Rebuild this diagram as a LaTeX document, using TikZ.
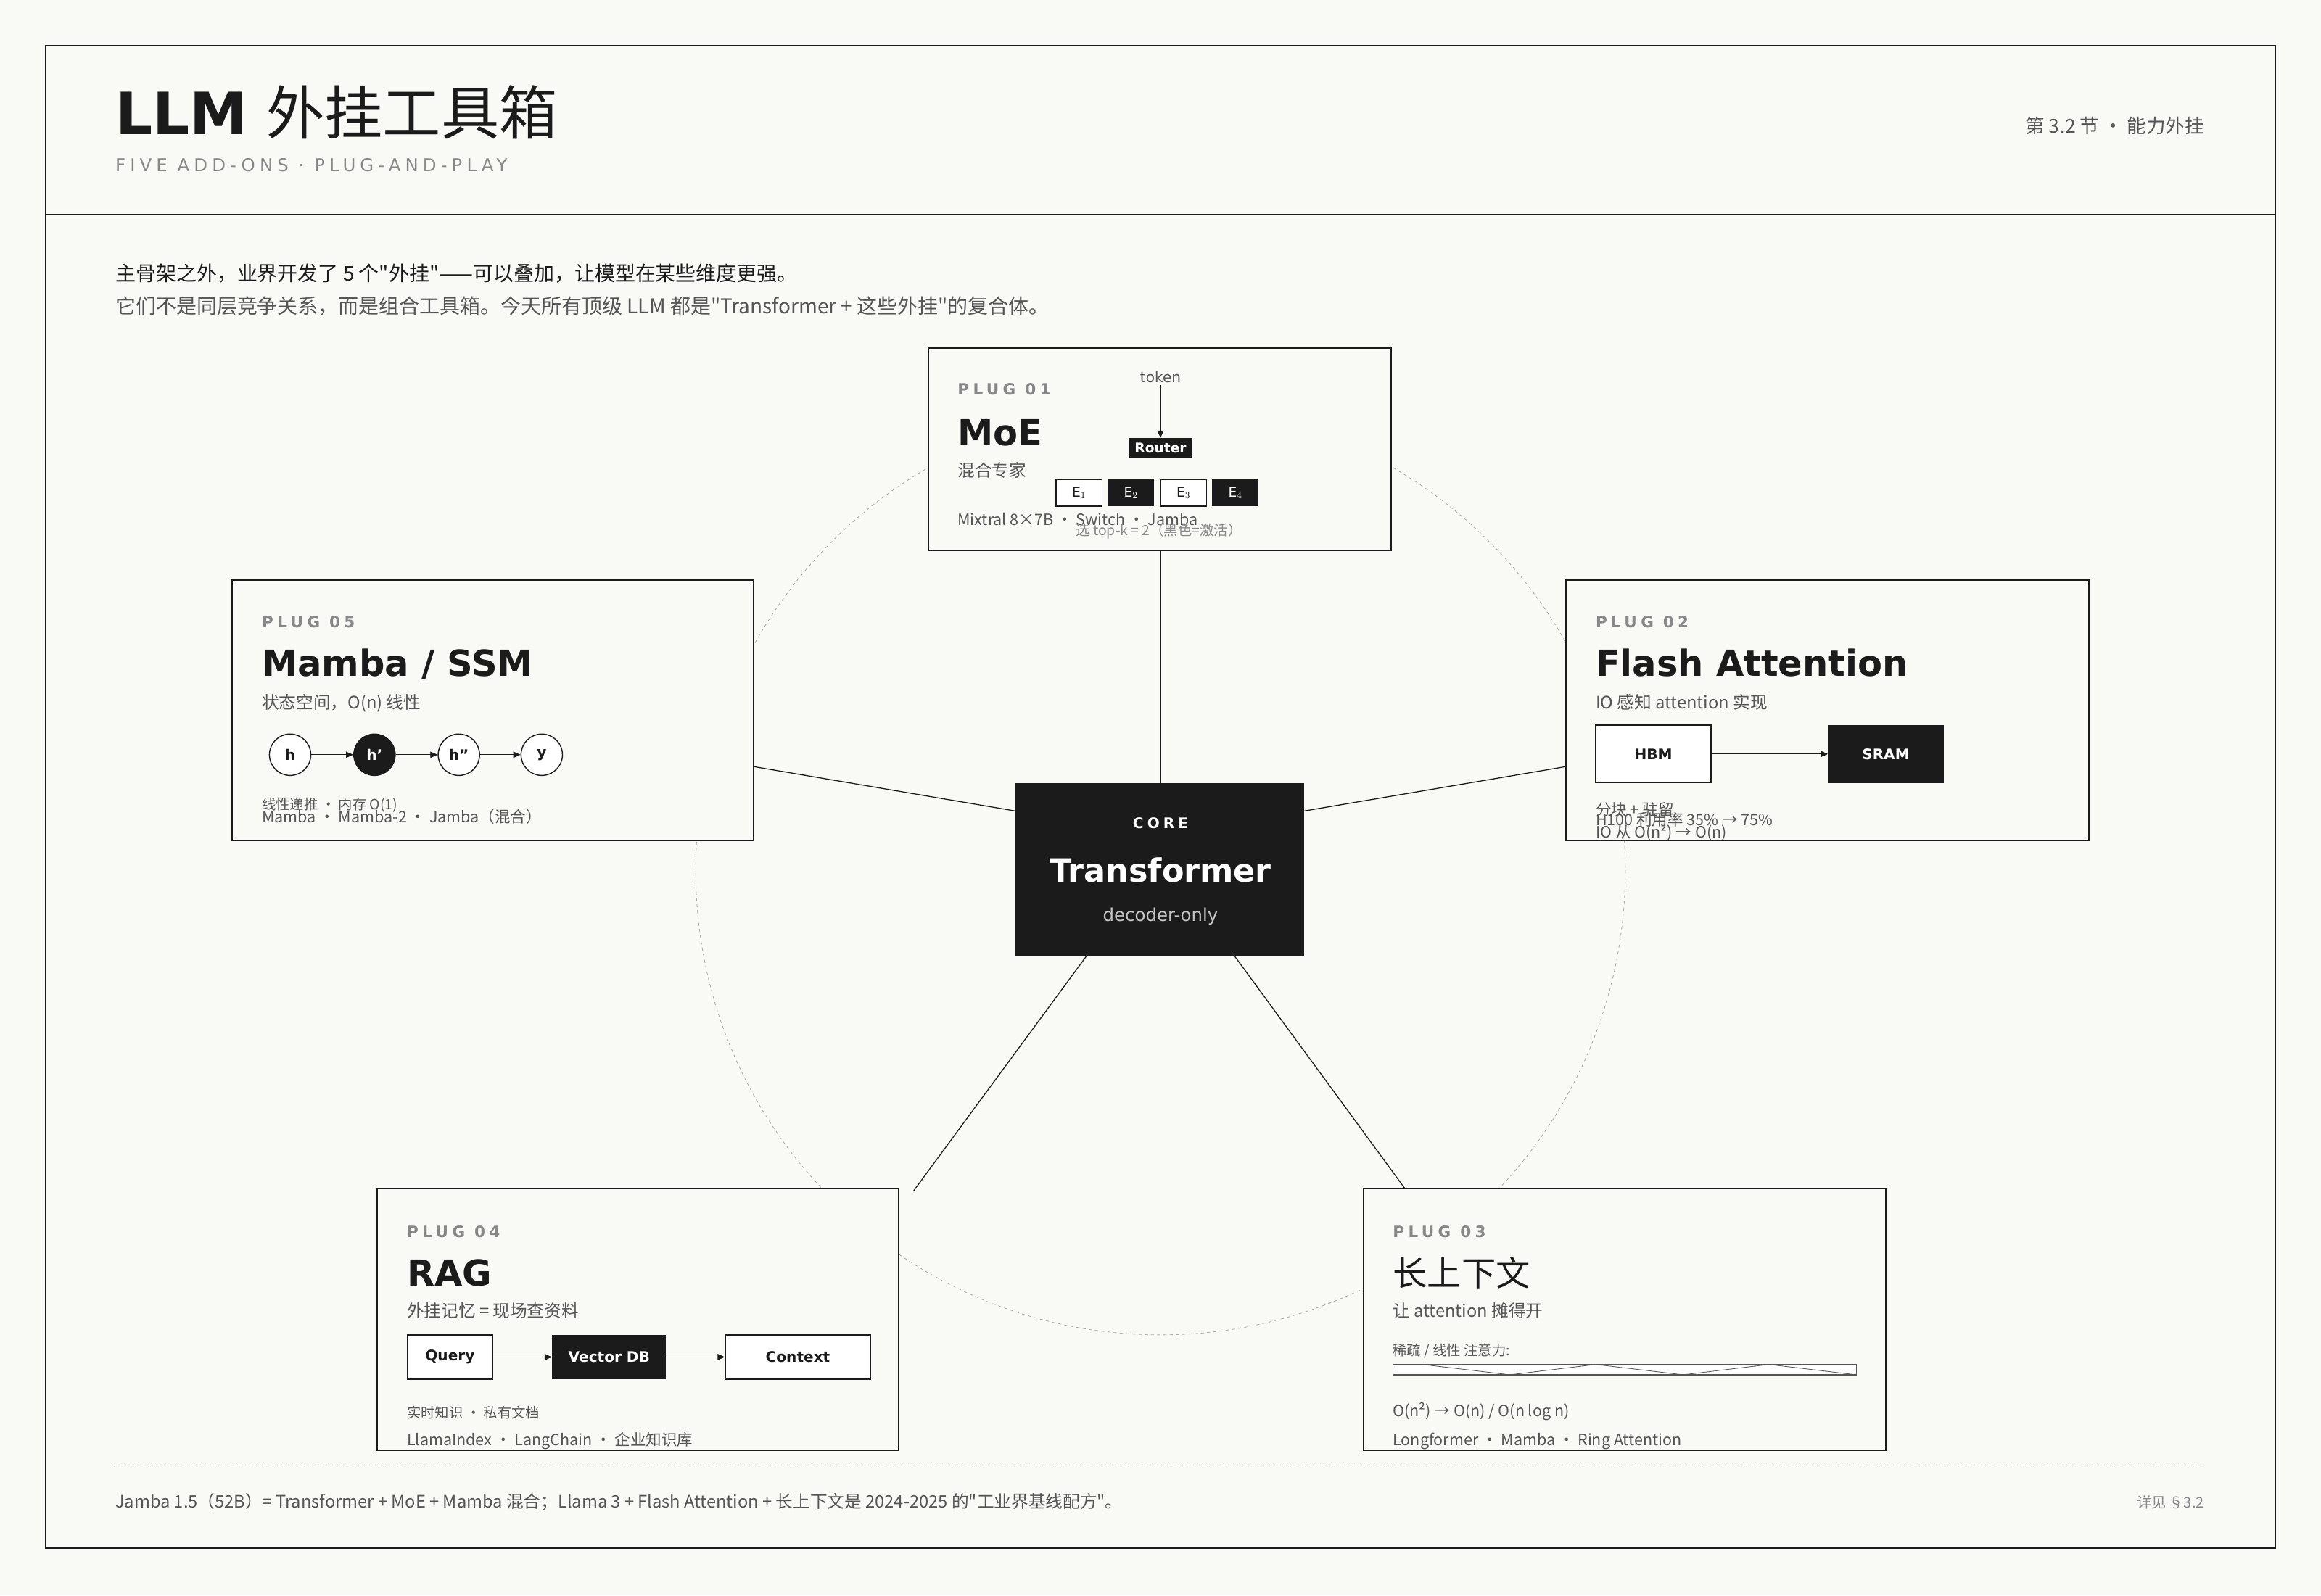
\documentclass[tikz,border=0pt]{standalone}
\usepackage{fontspec}
\setmainfont{DejaVu Sans}
\newfontfamily\cjk{Noto Sans CJK SC}
\newfontfamily\spaced[LetterSpace=25]{DejaVu Sans}
\usetikzlibrary{arrows.meta,positioning}
\definecolor{paper}{HTML}{F9F9F6}
\definecolor{ink}{HTML}{1B1B1B}
\definecolor{muted}{HTML}{555555}
\definecolor{faint}{HTML}{888888}
\newcommand{\fs}[1]{\fontsize{#1}{#1}\selectfont}
\tikzset{
    txt/.style={anchor=base west, inner sep=0pt, outer sep=0pt},
    plugbox/.style={draw=ink, line width=1.4pt, fill=paper},
    plugtag/.style={txt, text=faint, font=\spaced\bfseries\fs{15}},
    plugtitle/.style={txt, text=ink, font=\bfseries\fs{34.5}},
    plugsub/.style={txt, text=muted, font=\cjk\fs{16.5}},
    plugnote/.style={txt, text=muted, font=\cjk\fs{15}},
    lightbox/.style={draw=ink, line width=1pt, fill=white, font=\bfseries\fs{14}, text=ink},
    darkbox/.style={fill=ink, text=white, font=\bfseries\fs{14}},
    link/.style={draw=ink, line width=0.9pt},
    flow/.style={draw=ink, line width=0.8pt, -{Triangle[length=7pt,width=6pt]}}
}
\begin{document}
\begin{tikzpicture}[x=0.05cm, y=-0.05cm]
\fill[paper] (0,0) rectangle (1568,1078);
\useasboundingbox (0,0) rectangle (1568,1078);
\draw[ink, line width=1.4pt] (31,31) rectangle (1537,1046);
\draw[ink, line width=1pt] (31,145) -- (1537,145);

% header
\node[txt, font=\fs{56}, text=ink] (title) at (78,91) {\textbf{LLM} {\cjk 外挂工具箱}};
\node[txt, font=\spaced\fs{17}, text=faint] (tagline) at (78,116) {FIVE ADD-ONS · PLUG-AND-PLAY};
\node[txt, anchor=base east, font=\cjk\fs{18.5}, text=muted] (sec) at (1489,90) {第 3.2 节 · 能力外挂};
\node[txt, font=\cjk\fs{19.5}, text=ink] (intro1) at (78,190) {主骨架之外，业界开发了 5 个"外挂"——可以叠加，让模型在某些维度更强。};
\node[txt, font=\cjk\fs{19.5}, text=muted] (intro2) at (78,212) {它们不是同层竞争关系，而是组合工具箱。今天所有顶级 LLM 都是"Transformer + 这些外挂"的复合体。};

% orbit
\draw[faint!70, line width=0.6pt, dash pattern=on 3pt off 3pt] (784,588) circle (314);

% connectors
\coordinate (moeA) at (784,372);
\coordinate (flashA) at (1058,518);
\coordinate (longA) at (949,803);
\coordinate (ragA) at (617,805);
\coordinate (mambaA) at (509,518);
\coordinate (coreN) at (784,529);
\coordinate (coreE) at (881,548);
\coordinate (coreW) at (686,548);
\coordinate (coreSE) at (834,646);
\coordinate (coreSW) at (734,646);
\draw[link] (coreN) -- (moeA);
\draw[link] (coreE) -- (flashA);
\draw[link] (coreW) -- (mambaA);
\draw[link] (coreSE) -- (longA);
\draw[link] (coreSW) -- (ragA);

% core
\fill[ink] (686,529) rectangle (881,646);
\node[font=\spaced\bfseries\fs{14}, text=white] (coretag) at (784,556) {CORE};
\node[font=\bfseries\fs{31}, text=white] (core) at (784,588) {Transformer};
\node[font=\fs{17}, text=white!75!ink] (coresub) at (784,619) {decoder-only};

% plug 01 : MoE
\draw[plugbox] (627,235) rectangle (940,372);
\node[plugtag] (tag1) at (647,267) {PLUG 01};
\node[plugtitle] (moe) at (647,301) {MoE};
\node[plugsub] (moesub) at (647,322) {混合专家};
\node[plugnote] (moenote) at (647,355) {Mixtral 8×7B · Switch · Jamba};
\node[font=\fs{14}, text=muted] (token) at (784,255) {token};
\node[darkbox, minimum width=42*0.05cm, minimum height=13*0.05cm, inner sep=0pt, font=\bfseries\fs{13}] (router) at (784,302.5) {Router};
\draw[flow] (token.south) ++(0,-1) -- (router.north);
\foreach \i/\x/\s in {1/729/lightbox, 2/764/darkbox, 3/799.5/lightbox, 4/834.5/darkbox}
  \node[\s, minimum width=31*0.05cm, minimum height=18*0.05cm, inner sep=0pt, font=\fs{13}] (e\i) at (\x,333) {E$_{\i}$};
\node[font=\cjk\fs{13.5}, text=faint, inner sep=0pt] (topk) at (783,359) {选 top-k = 2（黑色=激活）};

% plug 02 : Flash Attention
\draw[plugbox] (1058,392) rectangle (1411,568);
\node[plugtag] (tag2) at (1078,424) {PLUG 02};
\node[plugtitle] (flash) at (1078,457) {Flash Attention};
\node[plugsub] (flashsub) at (1078,479) {IO 感知 attention 实现};
\node[lightbox, minimum width=78*0.05cm, minimum height=39*0.05cm, inner sep=0pt] (hbm) at (1117,509.5) {HBM};
\node[darkbox, minimum width=78*0.05cm, minimum height=39*0.05cm, inner sep=0pt] (sram) at (1274,509.5) {SRAM};
\draw[flow] (hbm) -- (sram);
\node[plugnote] (fn1) at (1078,551) {分块 + 驻留};
\node[plugnote] (fn2) at (1078,558) {H100 利用率 35\% → 75\%};
\node[plugnote] (fn3) at (1078,566) {IO 从 O(n²) → O(n)};

% plug 03 : long context
\draw[plugbox] (921,803) rectangle (1274,980);
\node[plugtag] (tag3) at (941,836) {PLUG 03};
\node[txt, font=\cjk\fs{33}, text=ink] (longctx) at (941,869) {长上下文};
\node[plugsub] (longsub) at (941,890) {让 attention 摊得开};
\node[txt, font=\cjk\fs{13.5}, text=muted] (sparse) at (941,916) {稀疏 / 线性 注意力:};
\draw[muted, line width=0.8pt, fill=white] (941,922) rectangle (1254,929);
\draw[muted, line width=0.6pt] (961,922) -- (1020,929) -- (1078,922) -- (1137,929) -- (1195,922) -- (1254,929);
\node[plugnote] (ln1) at (941,957) {O(n²) → O(n) / O(n log n)};
\node[plugnote] (ln2) at (941,977) {Longformer · Mamba · Ring Attention};

% plug 04 : RAG
\draw[plugbox] (255,803) rectangle (607,980);
\node[plugtag] (tag4) at (275,836) {PLUG 04};
\node[plugtitle] (rag) at (275,869) {RAG};
\node[plugsub] (ragsub) at (275,890) {外挂记忆 = 现场查资料};
\node[lightbox, minimum width=58*0.05cm, minimum height=30*0.05cm, inner sep=0pt] (query) at (304,917) {Query};
\node[darkbox, minimum width=77*0.05cm, minimum height=30*0.05cm, inner sep=0pt] (vdb) at (411.5,917) {Vector DB};
\node[lightbox, minimum width=98*0.05cm, minimum height=30*0.05cm, inner sep=0pt] (ctx) at (539,917) {Context};
\draw[flow] (query) -- (vdb);
\draw[flow] (vdb) -- (ctx);
\node[txt, font=\cjk\fs{13.5}, text=muted] (rn1) at (275,958) {实时知识 · 私有文档};
\node[plugnote] (rn2) at (275,977) {LlamaIndex · LangChain · 企业知识库};

% plug 05 : Mamba
\draw[plugbox] (157,392) rectangle (509,568);
\node[plugtag] (tag5) at (177,424) {PLUG 05};
\node[plugtitle] (mamba) at (177,457) {Mamba / SSM};
\node[plugsub] (mambasub) at (177,479) {状态空间，O(n) 线性};
\foreach \i/\x/\l/\f/\t in {1/196/h/white/ink, 2/253/h'/ink/white, 3/310/h''/white/ink, 4/366/y/white/ink}
  \node[circle, draw=ink, line width=1pt, fill=\f, text=\t, minimum size=28*0.05cm, inner sep=0pt, font=\bfseries\fs{14}] (s\i) at (\x,510) {\l};
\foreach \a/\b in {1/2, 2/3, 3/4}
  \draw[flow] (s\a) -- (s\b);
\node[txt, font=\cjk\fs{13.5}, text=muted] (mn1) at (177,547) {线性递推 · 内存 O(1)};
\node[plugnote] (mn2) at (177,556) {Mamba · Mamba-2 · Jamba（混合）};

% footer
\draw[faint, dashed, line width=0.8pt] (78,990) -- (1489,990);
\node[txt, font=\cjk\fs{16.5}, text=muted] (foot) at (78,1019) {Jamba 1.5（52B）= Transformer + MoE + Mamba 混合；Llama 3 + Flash Attention + 长上下文是 2024-2025 的"工业界基线配方"。};
\node[txt, anchor=base east, font=\cjk\fs{14}, text=faint] (ref) at (1489,1019) {详见 §3.2};
\end{tikzpicture}
\end{document}
